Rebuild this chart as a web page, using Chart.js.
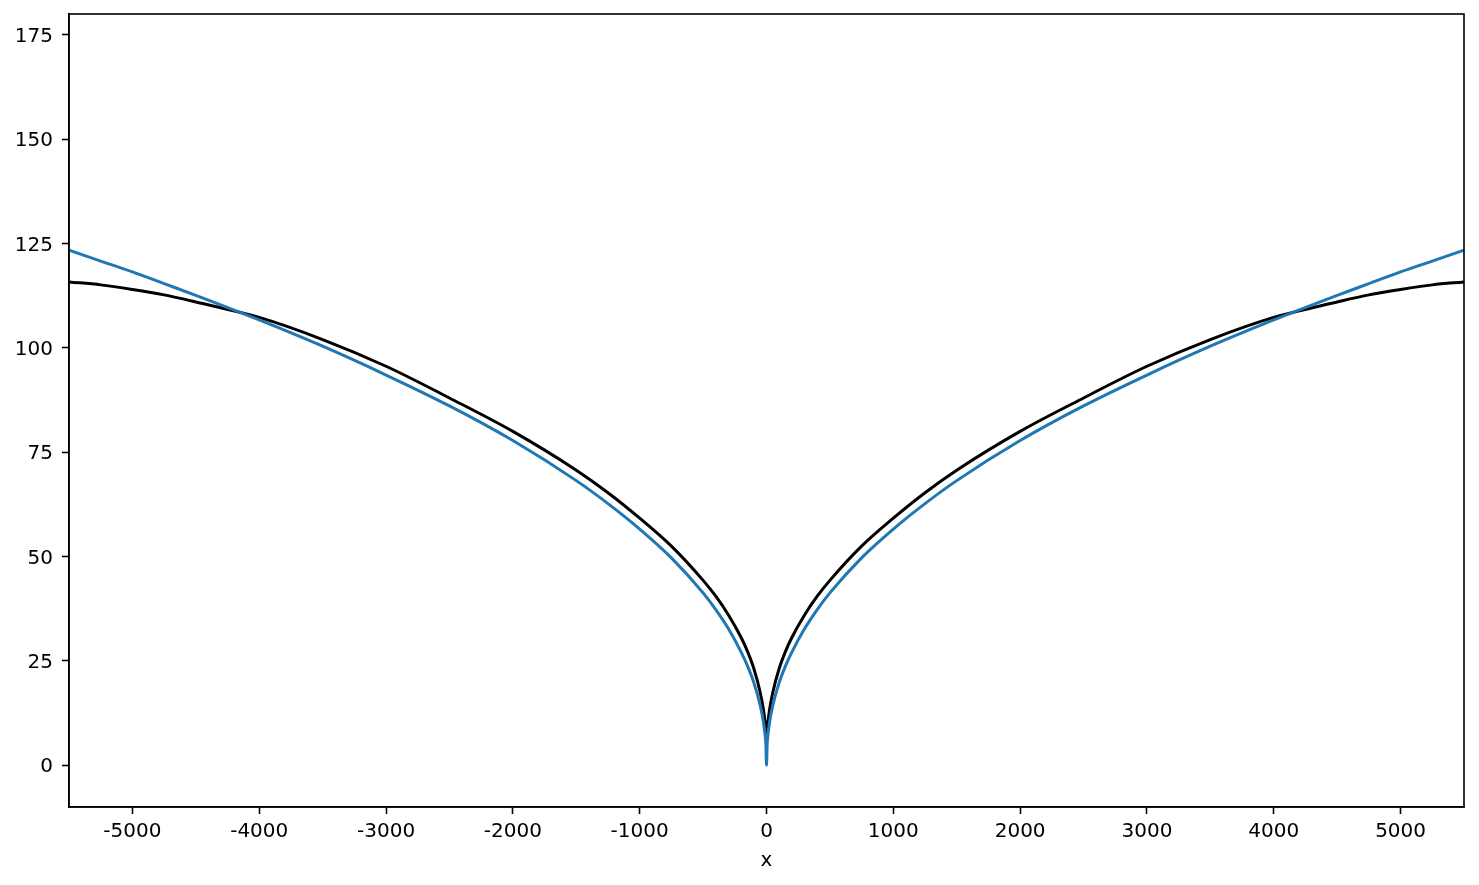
<!DOCTYPE html>
<html>
<head>
<meta charset="utf-8">
<script src="https://cdn.jsdelivr.net/npm/chart.js@4/dist/chart.umd.min.js"></script>
<style>
  html, body { margin: 0; padding: 0; background: #fff; }
  #wrap { width: 1479px; height: 885px; }
</style>
</head>
<body>
<div id="wrap"><canvas id="curves"></canvas></div>
<script>
// values (right half, mirrored for the left)
var xs = [0, 5, 10, 25, 50, 100, 150, 200, 300, 400, 500, 750, 1000, 1250, 1500, 2000, 2500, 3000, 3500, 4000, 4500, 4750, 5000, 5250, 5500];
var blueY = [0, 5.0, 6.9, 10.5, 14.4, 19.8, 23.8, 27.1, 32.7, 37.3, 41.3, 49.7, 56.6, 62.7, 68.2, 77.8, 86.1, 93.5, 100.4, 106.7, 112.6, 115.4, 118.2, 120.8, 123.4];
var blackY = [7, 8.5, 10.0, 13.5, 17.5, 23.2, 27.3, 30.6, 36.0, 40.5, 44.3, 52.5, 59.2, 65.3, 70.7, 80.0, 88.0, 95.6, 102.0, 107.3, 111.0, 112.7, 114.0, 115.1, 115.8];
var xTicks = [-5000, -4000, -3000, -2000, -1000, 0, 1000, 2000, 3000, 4000, 5000];
var yTicks = [0, 25, 50, 75, 100, 125, 150, 175];

function mirrored(xv, yv) {
    var pts = [];
    for (var i = xv.length - 1; i > 0; i--) pts.push({ x: -xv[i], y: yv[i] });
    for (var j = 0; j < xv.length; j++) pts.push({ x: xv[j], y: yv[j] });
    return pts;
}

var frame = {
    id: "frame",
    afterDraw: function (chart) {
        var a = chart.chartArea, c = chart.ctx;
        c.save();
        c.strokeStyle = "#000";
        c.lineWidth = 1.6;
        c.strokeRect(a.left, a.top, a.right - a.left, a.bottom - a.top);
        c.restore();
    }
};

var tickFont = { size: 20, family: "DejaVu Sans" };

new Chart(document.getElementById("curves").getContext("2d"), {
    type: "line",
    data: {
        datasets: [
            {
                label: "blue",
                data: mirrored(xs, blueY),
                borderColor: "#1f77b4",
                borderWidth: 3,
                pointRadius: 0,
                cubicInterpolationMode: "monotone"
            },
            {
                label: "black",
                data: mirrored(xs, blackY),
                borderColor: "#000000",
                borderWidth: 3,
                pointRadius: 0,
                cubicInterpolationMode: "monotone"
            }
        ]
    },
    options: {
        responsive: true,
        maintainAspectRatio: false,
        animation: false,
        layout: { padding: { left: 0, top: 14, right: 15, bottom: 0 } },
        plugins: {
            legend: { display: false },
            tooltip: { enabled: false }
        },
        scales: {
            x: {
                type: "linear",
                min: -5500,
                max: 5500,
                afterBuildTicks: function (s) { s.ticks = xTicks.map(function (v) { return { value: v }; }); },
                afterFit: function (s) { s.height = 78; s.paddingLeft = 0; s.paddingRight = 0; },
                border: { display: true, color: "#000", width: 1.6 },
                grid: { display: true, drawOnChartArea: false, drawTicks: true, tickLength: 7, tickColor: "#000", tickWidth: 1.6 },
                ticks: {
                    color: "#000",
                    font: tickFont,
                    padding: 6,
                    maxRotation: 0,
                    callback: function (v) { return String(v); }
                },
                title: {
                    display: true,
                    text: "x",
                    color: "#000",
                    font: tickFont,
                    padding: { top: 0, bottom: 12 }
                }
            },
            y: {
                min: -10,
                max: 180,
                afterBuildTicks: function (s) { s.ticks = yTicks.map(function (v) { return { value: v }; }); },
                afterFit: function (s) { s.width = 69; s.paddingTop = 0; s.paddingBottom = 0; },
                border: { display: true, color: "#000", width: 1.6 },
                grid: { display: true, drawOnChartArea: false, drawTicks: true, tickLength: 7, tickColor: "#000", tickWidth: 1.6 },
                ticks: {
                    color: "#000",
                    font: tickFont,
                    padding: 9,
                    labelOffset: 2,
                    callback: function (v) { return String(v); }
                }
            }
        }
    },
    plugins: [frame]
});
</script>
</body>
</html>
